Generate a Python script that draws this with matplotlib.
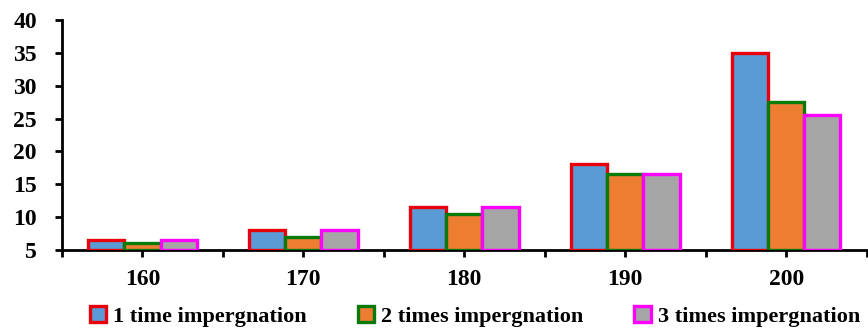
import numpy as np
import matplotlib.pyplot as plt
from matplotlib.ticker import FixedLocator

# 数据
categories = ['160', '170', '180', '190', '200']
one_time = [6.5, 8.0, 11.5, 18.1, 35.0]
two_times = [6.1, 7.0, 10.5, 16.6, 27.5]
three_times = [6.5, 8.0, 11.5, 16.6, 25.5]
series_names = ['1 time impergnation', '2 times impergnation', '3 times impergnation']

face_colors = ['#5B9BD5', '#ED7D31', '#A5A5A5']
edge_colors = ['#E8000B', '#0A7A0A', '#FF00FF']

plt.rcParams['font.family'] = 'Liberation Serif'
plt.rcParams['font.weight'] = 'bold'

fig = plt.figure(figsize=(8.68, 3.28), dpi=100)
ax = fig.add_axes([0.0714, 0.238, 0.927, 0.701])

x = np.arange(len(categories))
w = 0.225
for i, vals in enumerate([one_time, two_times, three_times]):
    ax.bar(x + (i - 1) * w, np.array(vals) - 5, w, bottom=5,
           color=face_colors[i], edgecolor=edge_colors[i], linewidth=2.4,
           label=series_names[i], zorder=3)

ax.set_xlim(-0.5, len(categories) - 0.5)
ax.set_ylim(5, 40)
ax.set_yticks(range(5, 41, 5))
ax.set_xticks(x)
ax.set_xticklabels(categories)
ax.xaxis.set_minor_locator(FixedLocator(np.arange(-0.5, len(categories), 1.0)))

for s in ['top', 'right']:
    ax.spines[s].set_visible(False)
for s in ['left', 'bottom']:
    ax.spines[s].set_linewidth(2)

ax.tick_params(axis='both', which='both', direction='out', width=2, length=5,
               labelsize=17)
ax.tick_params(axis='y', pad=13)
ax.tick_params(axis='x', which='major', pad=9)
ax.tick_params(axis='x', which='minor', length=5, width=2)

fig.legend(loc='center', bbox_to_anchor=(0.547, 0.035), ncol=3, frameon=False,
           fontsize=16, handlelength=0.75, handleheight=0.75, handletextpad=0.3,
           columnspacing=2.3)

fig.savefig('out.png', dpi=100)
